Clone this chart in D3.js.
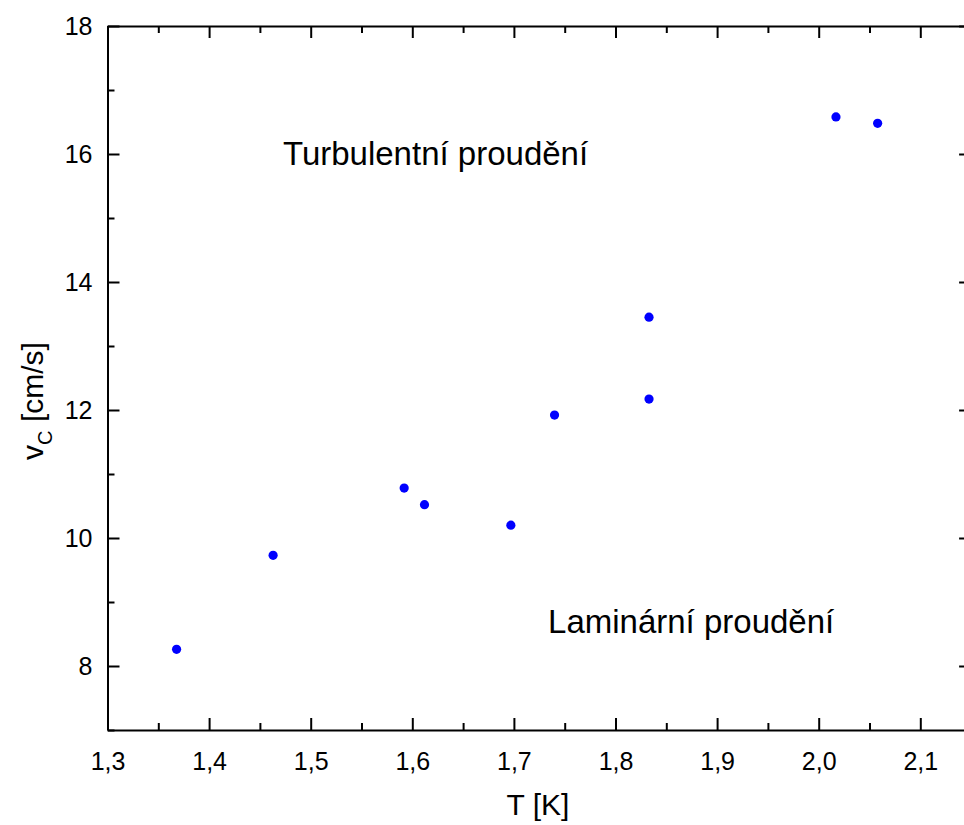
<!DOCTYPE html>
<html><head><meta charset="utf-8">
<script src="https://cdn.jsdelivr.net/npm/d3@7"></script>
<style>
body{margin:0;background:#fff;}
svg{display:block;font-family:"Liberation Sans",Arial,sans-serif;}
</style></head>
<body><svg id="c" width="964" height="825"></svg>
<script>
const temperature = [1.368, 1.463, 1.592, 1.612, 1.697, 1.740, 1.833, 1.833, 2.017, 2.058];
const criticalVelocity = [8.26, 9.73, 10.78, 10.52, 10.20, 11.92, 13.45, 12.17, 16.58, 16.48];
const xMajorTicks = [1.3, 1.4, 1.5, 1.6, 1.7, 1.8, 1.9, 2.0, 2.1];
const xMinorTicks = [1.35, 1.45, 1.55, 1.65, 1.75, 1.85, 1.95, 2.05];
const yMajorTicks = [8, 10, 12, 14, 16, 18];
const yMinorTicks = [7, 9, 11, 13, 15, 17];
const regionLabels = [
  {text: "Turbulentní proudění", x: 1.4727, y: 15.83},
  {text: "Laminární proudění", x: 1.7336, y: 8.52}
];

const svg = d3.select("#c");
const L = 107.5, R = 971.1, T = 26, B = 730;
const x = d3.scaleLinear().domain([1.3, 2.15]).range([L, R]);
const y = d3.scaleLinear().domain([7, 18]).range([B, T]);
const loc = d3.formatLocale({decimal: ",", thousands: " ", grouping: [3], currency: ["", ""]});
const fx = loc.format(".1f");

function styleAxis(g){
  g.selectAll("path.domain").attr("stroke","#000").attr("stroke-width",2);
  g.selectAll(".tick line").attr("stroke","#000").attr("stroke-width",2);
}
// bottom
const gb = svg.append("g").attr("transform",`translate(0,${B})`)
  .call(d3.axisBottom(x).tickValues(xMajorTicks).tickSizeInner(-12).tickSizeOuter(0).tickPadding(22).tickFormat(fx));
styleAxis(gb);
gb.selectAll("text").attr("font-size",25).attr("fill","#000").attr("font-family","Liberation Sans, Arial, sans-serif");
svg.append("g").attr("transform",`translate(0,${B})`)
  .call(d3.axisBottom(x).tickValues(xMinorTicks).tickSizeInner(-7).tickSizeOuter(0).tickFormat(""))
  .call(g=>{g.select("path.domain").remove(); styleAxis(g);});
// top
svg.append("g").attr("transform",`translate(0,${T})`)
  .call(d3.axisTop(x).tickValues(xMajorTicks).tickSizeInner(-12).tickSizeOuter(0).tickFormat(""))
  .call(styleAxis);
svg.append("g").attr("transform",`translate(0,${T})`)
  .call(d3.axisTop(x).tickValues(xMinorTicks).tickSizeInner(-7).tickSizeOuter(0).tickFormat(""))
  .call(g=>{g.select("path.domain").remove(); styleAxis(g);});
// left
const gl = svg.append("g").attr("transform",`translate(${L},0)`)
  .call(d3.axisLeft(y).tickValues(yMajorTicks).tickSizeInner(-12).tickSizeOuter(0).tickPadding(15).tickFormat(d3.format("d")));
styleAxis(gl);
gl.selectAll("text").attr("font-size",25).attr("fill","#000").attr("font-family","Liberation Sans, Arial, sans-serif");
svg.append("g").attr("transform",`translate(${L},0)`)
  .call(d3.axisLeft(y).tickValues(yMinorTicks).tickSizeInner(-7).tickSizeOuter(0).tickFormat(""))
  .call(g=>{g.select("path.domain").remove(); styleAxis(g);});
// right
svg.append("g").attr("transform",`translate(${R},0)`)
  .call(d3.axisRight(y).tickValues(yMajorTicks).tickSizeInner(-12).tickSizeOuter(0).tickFormat(""))
  .call(styleAxis);
svg.append("g").attr("transform",`translate(${R},0)`)
  .call(d3.axisRight(y).tickValues(yMinorTicks).tickSizeInner(-7).tickSizeOuter(0).tickFormat(""))
  .call(g=>{g.select("path.domain").remove(); styleAxis(g);});

// points
svg.append("g").selectAll("circle").data(temperature).join("circle")
  .attr("cx",(d)=>x(d)).attr("cy",(d,i)=>y(criticalVelocity[i])).attr("r",4.6).attr("fill","#0000ff");

// region labels
svg.append("g").selectAll("text").data(regionLabels).join("text")
  .attr("x",d=>x(d.x)).attr("y",d=>y(d.y)).attr("font-size",33).attr("fill","#000").text(d=>d.text);

// axis titles
svg.append("text").attr("x",538).attr("y",815).attr("text-anchor","middle").attr("font-size",30).text("T [K]");
const yt = svg.append("text").attr("transform","translate(43,401) rotate(-90)").attr("text-anchor","middle").attr("font-size",30);
yt.append("tspan").text("v");
yt.append("tspan").attr("font-size",20).attr("dy",9).text("C");
yt.append("tspan").attr("dy",-9).text(" [cm/s]");
</script></body></html>
